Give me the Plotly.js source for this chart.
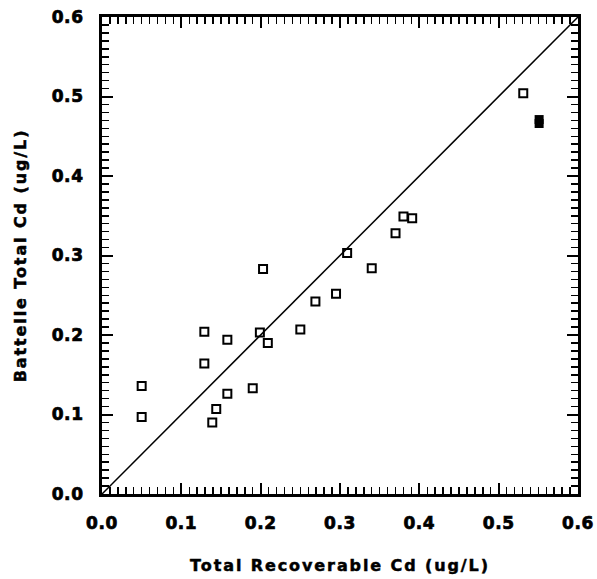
<!DOCTYPE html>
<html>
<head>
<meta charset="utf-8">
<script src="https://cdn.plot.ly/plotly-3.0.1.min.js"></script>
<style>
  html, body { margin: 0; padding: 0; background: #fff; }
  #chart { width: 597px; height: 579px; }
  .xtitle, .ytitle { letter-spacing: 1.9px; stroke: #000; stroke-width: 0.5px; }
  .xtick text, .ytick text { stroke: #000; stroke-width: 0.7px; letter-spacing: 0.6px; }
</style>
</head>
<body>
<div id="chart"></div>
<script>
// Total Recoverable Cd (x) vs Battelle Total Cd (y), ug/L
const openX = [0.050, 0.050, 0.129, 0.129, 0.158, 0.158, 0.144, 0.139, 0.190, 0.199, 0.209, 0.203, 0.250, 0.269, 0.295, 0.309, 0.340, 0.370, 0.380, 0.391, 0.531];
const openY = [0.136, 0.097, 0.204, 0.164, 0.194, 0.126, 0.107, 0.090, 0.133, 0.203, 0.190, 0.283, 0.207, 0.242, 0.252, 0.303, 0.284, 0.328, 0.349, 0.347, 0.504];
const filledX = [0.551, 0.551];
const filledY = [0.471, 0.466];
const lineX = [0.0, 0.6];
const lineY = [0.0, 0.6];
const tickVals = [0.0, 0.1, 0.2, 0.3, 0.4, 0.5, 0.6];
const tickText = ["0.0", "0.1", "0.2", "0.3", "0.4", "0.5", "0.6"];
const axisRange = [0, 0.6];
const minorStep = 0.01;

const tickFont = { family: "DejaVu Sans", size: 17, color: "#000", weight: "bold" };
const titleFont = { family: "DejaVu Sans", size: 16, color: "#000", weight: "bold" };

const axisCommon = {
  range: axisRange,
  tickmode: "array",
  tickvals: tickVals,
  ticktext: tickText,
  ticks: "inside",
  ticklen: 11,
  tickwidth: 2,
  tickcolor: "#000",
  showline: true,
  linewidth: 3,
  linecolor: "#000",
  mirror: "allticks",
  showgrid: false,
  zeroline: false,
  tickfont: tickFont,
  ticklabelstandoff: 12
};

const minorAxis = {
  range: axisRange,
  tickmode: "linear",
  tick0: 0,
  dtick: minorStep,
  ticks: "inside",
  ticklen: 7,
  tickwidth: 1.5,
  tickcolor: "#000",
  showticklabels: false,
  showline: false,
  mirror: "allticks",
  showgrid: false,
  zeroline: false
};

const traces = [
  { x: lineX, y: lineY, mode: "lines", line: { color: "#000", width: 1.5 }, hoverinfo: "skip" },
  { x: openX, y: openY, mode: "markers", marker: { symbol: "square-open", size: 8, color: "#000", line: { width: 2, color: "#000" } } },
  { x: filledX, y: filledY, mode: "markers", marker: { symbol: "square", size: 9, color: "#000", line: { width: 0 } } },
  { x: [axisRange[0]], y: [axisRange[0]], xaxis: "x2", yaxis: "y2", mode: "markers", marker: { opacity: 0 }, hoverinfo: "skip" }
];

const layout = {
  width: 597,
  height: 579,
  margin: { l: 102, r: 19, t: 17, b: 85 },
  paper_bgcolor: "#fff",
  plot_bgcolor: "#fff",
  showlegend: false,
  xaxis: Object.assign({}, axisCommon, {
    title: { text: "Total Recoverable Cd (ug/L)", font: titleFont, standoff: 28 }
  }),
  yaxis: Object.assign({}, axisCommon, {
    title: { text: "Battelle Total Cd (ug/L)", font: titleFont, standoff: 22 }
  }),
  xaxis2: Object.assign({}, minorAxis, { overlaying: "x", anchor: "y2", side: "bottom" }),
  yaxis2: Object.assign({}, minorAxis, { overlaying: "y", anchor: "x2", side: "left" })
};

Plotly.newPlot("chart", traces, layout, { staticPlot: true, displayModeBar: false });
</script>
</body>
</html>
